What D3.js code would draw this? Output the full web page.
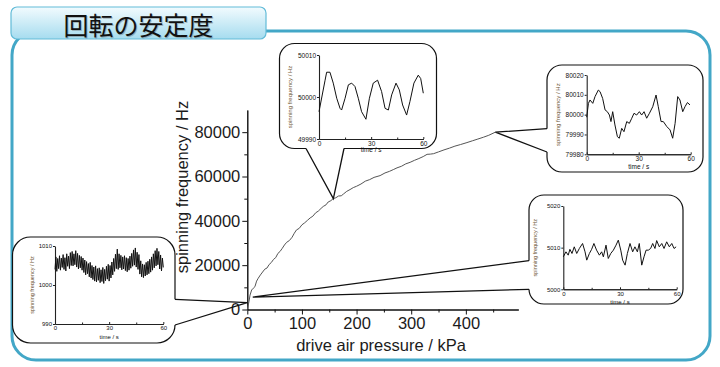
<!DOCTYPE html>
<html><head><meta charset="utf-8">
<script src="https://cdn.jsdelivr.net/npm/d3@7"></script>
<style>body{margin:0;background:#fff}svg{display:block}</style>
</head><body>
<svg id="c" width="720" height="367"></svg>
<script>
// ---------- data ----------
const title = "回転の安定度";
const xLabel = "drive air pressure / kPa";
const yLabel = "spinning frequency / Hz";
const xTicks = [0, 100, 200, 300, 400];
const xMinor = [50, 150, 250, 350, 450];
const yTicks = [0, 20000, 40000, 60000, 80000];
const yMinor = [10000, 30000, 50000, 70000];

const pressure = [0, 3, 5, 8, 11, 14, 17, 20, 24, 28, 32, 36, 40, 44, 48, 52, 56, 60, 64, 68, 72, 77, 82, 86, 90, 95, 100, 105, 110, 115, 120, 125, 130, 135, 139, 144, 148, 153, 157, 162, 167, 172, 176, 182, 188, 194, 200, 208, 216, 224, 232, 243, 252, 260, 268, 274, 282, 290, 298, 306, 314, 322, 329, 335, 341, 350, 360, 370, 380, 390, 402, 412, 422, 432, 442, 454];
const frequency = [0, 3500, 6500, 8800, 9600, 10300, 12800, 14100, 15600, 16900, 18200, 18700, 20300, 21200, 22600, 23400, 25300, 26200, 27600, 29100, 30300, 31100, 32600, 34400, 35900, 36600, 38200, 39100, 40200, 41300, 42100, 43600, 44400, 45600, 46500, 47200, 48500, 49100, 50000, 50400, 51200, 51300, 52100, 53300, 54100, 55000, 55600, 56600, 57900, 58600, 59600, 60400, 61600, 62300, 63200, 63900, 64600, 65700, 66400, 67300, 68100, 69000, 70000, 70100, 70300, 71100, 72000, 72800, 73700, 74400, 75300, 76100, 76900, 77700, 78600, 80000];

// inset common
const insetTimeTicks = [0, 30, 60];
const insetTimeMinor = [15, 45];
const insetXLabel = "time / s";
const insetYLabel = "spinning frequency / Hz";

// 50000 Hz inset
const time50k = [0, 3.5, 4.4, 6.3, 8.2, 10.2, 12.1, 13, 15, 16.9, 18.8, 20.7, 22.6, 24.5, 27, 29, 31.2, 33.7, 36, 38, 39.9, 41.8, 44.3, 46.2, 48.1, 50.4, 52.3, 54.6, 57.1, 58.5, 60];
const freq50k = [49996.5, 50004, 50005.9, 50005.9, 50003.3, 49999.7, 49997.3, 49996.9, 49999.7, 50002.9, 50003.3, 50002.5, 49999.7, 49996.5, 49994.7, 49999.7, 50003.3, 50004, 50001.3, 49997.3, 49996.9, 50000.5, 50003.3, 50001.7, 49998.1, 49995.7, 49998.9, 50003.3, 50005.2, 50004.4, 50000.9];
const ticks50k = [49990, 50000, 50010];

// 80000 Hz inset
const time80k = [0, 1, 1.9, 3.5, 4.8, 6.7, 7.7, 9.2, 10.6, 11.9, 13.1, 14, 15, 16.3, 17.7, 18.8, 20.2, 21.5, 23.1, 24.6, 26, 27.3, 28.8, 30.4, 31.7, 33.1, 34.6, 36.2, 38.1, 40, 41.3, 42.9, 44.2, 46.2, 48.1, 49.6, 51, 52.5, 53.8, 55.4, 56.7, 58.1, 59.6];
const freq80k = [79998.7, 80005.7, 80007.4, 80005.7, 80009.1, 80012.4, 80011.6, 80008.2, 80002.4, 80001.5, 79999.8, 79996.5, 80001.5, 79994.8, 79988.9, 79988.1, 79993.1, 79991.4, 79996.5, 79995.6, 79998.2, 80000.7, 79999.8, 80001.5, 79999.8, 80001.5, 79998.2, 80000.7, 80004, 80009.9, 80004, 79996.5, 79996.5, 79994, 79992.3, 79988.1, 79995.6, 80009.1, 80007.4, 80001.5, 80004, 80006.1, 80004.9];
const ticks80k = [79980, 79990, 80000, 80010, 80020];

// 5000 Hz inset
const time5k = [0, 1.4, 2.6, 3.5, 4.6, 5.8, 7.1, 8.5, 10.2, 11.5, 12.4, 13.8, 15, 16.2, 17.6, 19.1, 20.3, 21.2, 22.6, 23.8, 25.1, 26.5, 27.9, 29.1, 30.4, 31.4, 32.7, 33.9, 35.3, 36.7, 37.9, 39.2, 40.2, 41.5, 42.7, 43.8, 45, 46.2, 47.3, 48.5, 49.4, 50.8, 52.1, 53.3, 54.7, 56.1, 57.4, 58.6, 59.7];
const freq5k = [5007.8, 5009, 5008.2, 5009.6, 5008.6, 5010.2, 5008.6, 5009.8, 5011, 5009, 5007, 5008.6, 5009.6, 5011, 5009.4, 5008.2, 5009, 5007.8, 5010.6, 5007.4, 5008.6, 5009.4, 5010.6, 5011.8, 5009.4, 5007, 5005.8, 5008.6, 5011, 5009, 5010.2, 5009, 5011, 5005.8, 5007.8, 5009.4, 5009.4, 5009.8, 5011, 5009.8, 5011.7, 5010.2, 5011, 5009.8, 5011.4, 5010.2, 5011, 5009.8, 5010.2];
const ticks5k = [5000, 5010, 5020];

// 1000 Hz inset (one sample every 0.5 s)
const freq1k = [1004.0, 1007.2, 1003.5, 1006.8, 1004.2, 1007.5, 1003.8, 1006.9, 1004.5, 1007.8, 1004.0, 1007.0, 1003.6, 1008.0, 1004.8, 1007.4, 1004.2, 1008.3, 1005.0, 1008.6, 1004.9, 1008.0, 1005.2, 1008.8, 1004.6, 1008.1, 1004.1, 1007.6, 1004.4, 1007.3, 1003.8, 1006.9, 1003.2, 1006.4, 1002.6, 1006.0, 1002.9, 1005.5, 1002.1, 1005.8, 1001.8, 1005.0, 1001.4, 1004.6, 1001.0, 1004.9, 1000.8, 1004.2, 1001.2, 1004.4, 1000.6, 1003.9, 1000.9, 1004.5, 1000.4, 1004.0, 1001.1, 1004.8, 1001.5, 1005.3, 1001.0, 1005.0, 1001.8, 1005.9, 1002.6, 1006.8, 1003.5, 1007.9, 1004.2, 1009.2, 1004.0, 1008.0, 1004.4, 1007.6, 1003.9, 1007.2, 1004.1, 1007.5, 1003.7, 1007.0, 1003.4, 1006.8, 1003.8, 1007.4, 1004.3, 1008.1, 1004.8, 1009.0, 1005.1, 1009.5, 1004.6, 1008.4, 1004.0, 1007.8, 1002.8, 1006.2, 1002.1, 1005.4, 1001.9, 1005.2, 1002.3, 1005.8, 1002.6, 1006.1, 1002.9, 1006.6, 1003.3, 1007.2, 1003.8, 1008.0, 1004.4, 1008.8, 1004.9, 1009.4, 1005.2, 1008.6, 1004.1, 1007.7, 1003.6, 1006.9, 1004.5];
const sampleStep1k = 0.5;
const ticks1k = [990, 1000, 1010];

// ---------- drawing ----------
const svg = d3.select("#c");
const FONT = "'Liberation Sans', Arial, sans-serif";

const defs = svg.append("defs");
const g = defs.append("linearGradient").attr("id", "tabg").attr("x1", 0).attr("y1", 0).attr("x2", 0).attr("y2", 1);
g.append("stop").attr("offset", "0%").attr("stop-color", "#f2fbfe");
g.append("stop").attr("offset", "100%").attr("stop-color", "#a6dcef");

// outer frame
svg.append("rect").attr("x", 12).attr("y", 31).attr("width", 698).attr("height", 329)
  .attr("rx", 24).attr("fill", "none").attr("stroke", "#43a7c7").attr("stroke-width", 3);

// title tab
svg.append("rect").attr("x", 11).attr("y", 7).attr("width", 255).attr("height", 32)
  .attr("rx", 6).attr("fill", "url(#tabg)").attr("stroke", "#62bbd8").attr("stroke-width", 1.2);
svg.append("text").attr("x", 139.5).attr("y", 25).attr("text-anchor", "middle")
  .attr("dominant-baseline", "central")
  .style("font-family", "'Noto Sans CJK JP', sans-serif").style("font-size", "25px")
  .attr("fill", "#555").attr("opacity", 0.35).text(title);
svg.append("text").attr("x", 138.5).attr("y", 24).attr("text-anchor", "middle")
  .attr("dominant-baseline", "central")
  .style("font-family", "'Noto Sans CJK JP', sans-serif").style("font-size", "25px")
  .attr("fill", "#111").text(title);

// main chart
const x = d3.scaleLinear().domain([0, 496]).range([247.3, 518.3]);
const y = d3.scaleLinear().domain([0, 90000]).range([309.5, 110]);

const gx = svg.append("g").attr("transform", `translate(0,${y(0)})`);
gx.call(d3.axisBottom(x).tickValues(xTicks).tickSize(5).tickSizeOuter(0).tickPadding(3).tickFormat(d3.format("d")));
gx.append("g").call(d3.axisBottom(x).tickValues(xMinor).tickSize(3).tickSizeOuter(0).tickFormat(""));
gx.selectAll("text").style("font-family", FONT).style("font-size", "16.5px").attr("fill", "#1b1b1b");

const gy = svg.append("g").attr("transform", `translate(${x(0)},0)`);
gy.call(d3.axisLeft(y).tickValues(yTicks).tickSize(5).tickSizeOuter(0).tickPadding(2).tickFormat(d3.format("d")));
gy.append("g").call(d3.axisLeft(y).tickValues(yMinor).tickSize(3).tickSizeOuter(0).tickFormat(""));
gy.selectAll("text").style("font-family", FONT).style("font-size", "16.5px").attr("fill", "#1b1b1b");
svg.selectAll(".domain, .tick line").attr("stroke", "#111");

svg.append("text").attr("x", 381).attr("y", 351).attr("text-anchor", "middle")
  .style("font-family", FONT).style("font-size", "16.5px").attr("fill", "#1b1b1b").text(xLabel);
svg.append("text").attr("transform", "translate(188,187) rotate(-90)").attr("text-anchor", "middle")
  .style("font-family", FONT).style("font-size", "16.5px").attr("fill", "#1b1b1b").text(yLabel);

svg.append("path").datum(pressure.map((p, i) => [p, frequency[i]]))
  .attr("d", d3.line().x(d => x(d[0])).y(d => y(d[1])))
  .attr("fill", "none").attr("stroke", "#555").attr("stroke-width", 1);

// inset bubbles
function inset(cfg, times, values) {
  const b = cfg.box;
  const root = svg.append("g");
  root.append("rect").attr("x", b.x).attr("y", b.y).attr("width", b.w).attr("height", b.h)
    .attr("rx", b.r).attr("fill", "#fff").attr("stroke", "#111").attr("stroke-width", 1.2);
  const tx = x(cfg.tip[0]), ty = y(cfg.tip[1]);
  let p1, p2;
  if (cfg.gap.side === "bottom") { p1 = [cfg.gap.a, b.y + b.h]; p2 = [cfg.gap.b, b.y + b.h]; }
  else if (cfg.gap.side === "left") { p1 = [b.x, cfg.gap.a]; p2 = [b.x, cfg.gap.b]; }
  else { p1 = [b.x + b.w, cfg.gap.a]; p2 = [b.x + b.w, cfg.gap.b]; }
  root.append("line").attr("x1", p1[0]).attr("y1", p1[1]).attr("x2", p2[0]).attr("y2", p2[1])
    .attr("stroke", "#fff").attr("stroke-width", 3);
  root.append("path").attr("d", `M${p1[0]},${p1[1]}L${tx},${ty}L${p2[0]},${p2[1]}`)
    .attr("fill", "none").attr("stroke", "#111").attr("stroke-width", 1.3).attr("stroke-linejoin", "miter");

  const pl = cfg.plot;
  const sx = d3.scaleLinear().domain([0, 60]).range([pl.x0, pl.x1]);
  const sy = d3.scaleLinear().domain(cfg.yDomain).range([pl.yBot, pl.yTop]);
  const fs = cfg.fs + "px";
  const ax = root.append("g").attr("transform", `translate(0,${pl.yBot})`)
    .call(d3.axisBottom(sx).tickValues(insetTimeTicks).tickSize(-2).tickSizeOuter(0).tickPadding(2));
  ax.append("g").call(d3.axisBottom(sx).tickValues(insetTimeMinor).tickSize(-1.5).tickSizeOuter(0).tickFormat(""));
  root.append("g").attr("transform", `translate(${pl.x0},0)`)
    .call(d3.axisLeft(sy).tickValues(cfg.yTicks).tickSize(2).tickSizeOuter(0).tickPadding(1).tickFormat(d3.format("d")));
  root.selectAll(".domain").attr("stroke", "#222").attr("stroke-width", 1.1);
  root.selectAll(".tick line").attr("stroke", "#222");
  root.selectAll(".tick text").style("font-family", FONT).style("font-size", fs).attr("fill", "#111");
  root.append("text").attr("x", (pl.x0 + pl.x1) / 2).attr("y", pl.yBot + cfg.xlabDy).attr("text-anchor", "middle")
    .style("font-family", FONT).style("font-size", fs).attr("fill", "#111").text(insetXLabel);
  root.append("text").attr("transform", `translate(${cfg.ylabX},${(pl.yTop + pl.yBot) / 2}) rotate(-90)`)
    .attr("text-anchor", "middle").attr("dominant-baseline", "central")
    .style("font-family", FONT).style("font-size", (cfg.fs - 0.5) + "px").attr("fill", "#6e5536").text(insetYLabel);
  root.append("path").datum(times.map((t, i) => [t, values[i]]))
    .attr("d", d3.line().x(d => sx(d[0])).y(d => sy(d[1])))
    .attr("fill", "none").attr("stroke", "#111").attr("stroke-width", cfg.lw);
}

inset({ box: { x: 279.5, y: 43.5, w: 157, h: 105, r: 15 },
        plot: { x0: 319, x1: 423.3, yTop: 55, yBot: 139 },
        yDomain: [49990, 50010], yTicks: ticks50k, fs: 6.5, xlabDy: 13, ylabX: 290, lw: 1,
        tip: [157.5, 50000], gap: { side: "bottom", a: 306, b: 344 } }, time50k, freq50k);

inset({ box: { x: 547, y: 65, w: 156, h: 107, r: 15 },
        plot: { x0: 586.7, x1: 690.7, yTop: 75, yBot: 154.3 },
        yDomain: [79980, 80020], yTicks: ticks80k, fs: 6.5, xlabDy: 15, ylabX: 558, lw: 1,
        tip: [454, 80000], gap: { side: "left", a: 128.7, b: 152 } }, time80k, freq80k);

inset({ box: { x: 529, y: 195, w: 154, h: 109, r: 15 },
        plot: { x0: 563.3, x1: 676.7, yTop: 206, yBot: 289.3 },
        yDomain: [5000, 5020], yTicks: ticks5k, fs: 6, xlabDy: 15, ylabX: 535, lw: 1,
        tip: [10, 5600], gap: { side: "left", a: 260.7, b: 289.3 } }, time5k, freq5k);

inset({ box: { x: 12.5, y: 237, w: 162.5, h: 106, r: 18 },
        plot: { x0: 55, x1: 163.3, yTop: 246, yBot: 324 },
        yDomain: [990, 1010], yTicks: ticks1k, fs: 6, xlabDy: 15, ylabX: 32, lw: 1,
        tip: [0, 3100], gap: { side: "right", a: 299.3, b: 325 } }, freq1k.map((v, i) => i * sampleStep1k), freq1k);
</script>
</body></html>
